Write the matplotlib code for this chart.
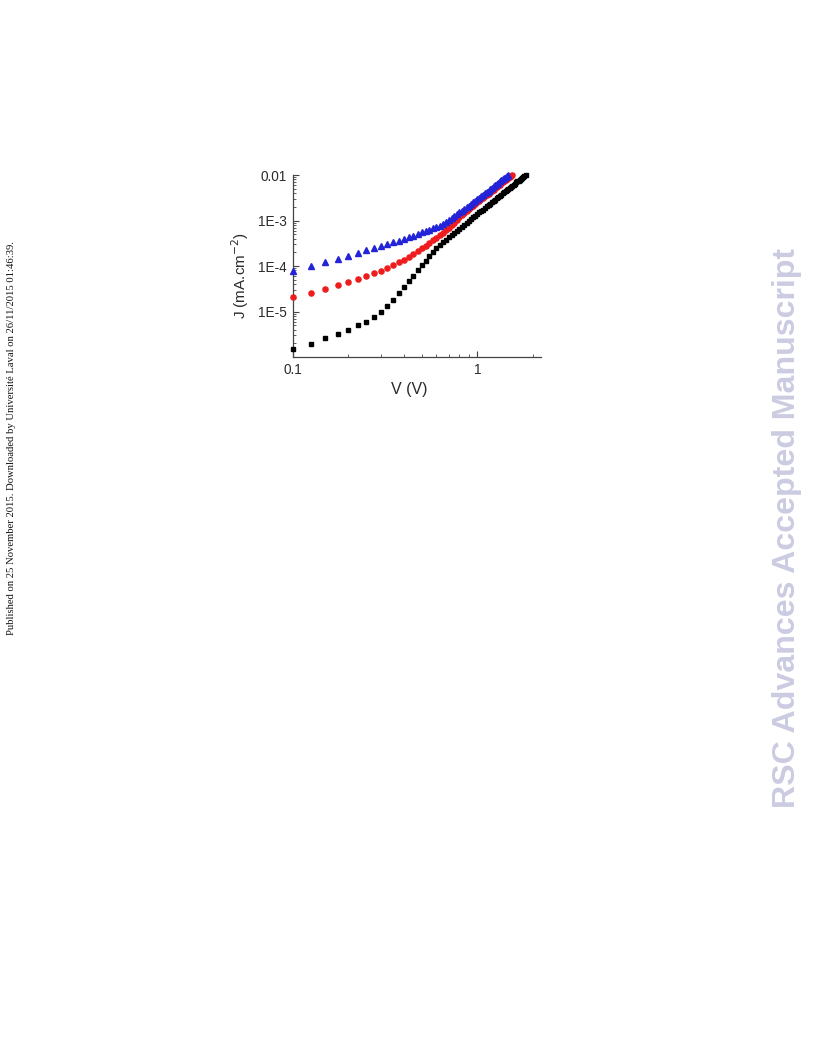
import matplotlib
matplotlib.use("Agg")
import matplotlib.pyplot as plt
from matplotlib.ticker import FixedLocator, NullFormatter, LogLocator

# applied bias (V), 25 mV steps
voltage = [0.100, 0.125, 0.150, 0.175, 0.200, 0.225, 0.250, 0.275, 0.300, 0.325,
           0.350, 0.375, 0.400, 0.425, 0.450, 0.475, 0.500, 0.525, 0.550, 0.575,
           0.600, 0.625, 0.650, 0.675, 0.700, 0.725, 0.750, 0.775, 0.800, 0.825,
           0.850, 0.875, 0.900, 0.925, 0.950, 0.975, 1.000, 1.025, 1.050, 1.075,
           1.100, 1.125, 1.150, 1.175, 1.200, 1.225, 1.250, 1.275, 1.300, 1.325,
           1.350, 1.375, 1.400, 1.425, 1.450, 1.475, 1.500, 1.525, 1.550, 1.575,
           1.600, 1.625, 1.650, 1.675, 1.700, 1.725, 1.750, 1.775, 1.800, 1.825]

# current density (mA.cm-2)
j_black = [1.51e-6, 1.95e-6, 2.57e-6, 3.24e-6, 3.98e-6, 5.01e-6, 6.03e-6, 7.59e-6, 9.77e-6, 1.32e-5,
           1.82e-5, 2.51e-5, 3.47e-5, 4.68e-5, 6.17e-5, 8.13e-5, 1.05e-4, 1.32e-4, 1.66e-4, 2.04e-4,
           2.51e-4, 2.95e-4, 3.31e-4, 3.80e-4, 4.27e-4, 4.79e-4, 5.37e-4, 5.89e-4, 6.61e-4, 7.24e-4,
           8.13e-4, 8.91e-4, 9.77e-4, 1.07e-3, 1.17e-3, 1.26e-3, 1.38e-3, 1.51e-3, 1.62e-3, 1.74e-3,
           1.91e-3, 2.04e-3, 2.19e-3, 2.34e-3, 2.51e-3, 2.69e-3, 2.88e-3, 3.09e-3, 3.31e-3, 3.47e-3,
           3.72e-3, 3.98e-3, 4.17e-3, 4.47e-3, 4.68e-3, 5.01e-3, 5.25e-3, 5.50e-3, 5.89e-3, 6.17e-3,
           6.46e-3, 6.92e-3, 7.24e-3, 7.59e-3, 7.94e-3, 8.32e-3, 8.71e-3, 9.12e-3, 9.55e-3, 1.00e-2]

j_red = [2.09e-5, 2.57e-5, 3.16e-5, 3.80e-5, 4.47e-5, 5.25e-5, 6.03e-5, 6.92e-5, 7.94e-5, 9.12e-5,
         1.05e-4, 1.20e-4, 1.38e-4, 1.58e-4, 1.82e-4, 2.14e-4, 2.45e-4, 2.82e-4, 3.24e-4, 3.72e-4,
         4.17e-4, 4.79e-4, 5.37e-4, 6.17e-4, 6.92e-4, 7.94e-4, 8.91e-4, 1.02e-3, 1.17e-3, 1.32e-3,
         1.48e-3, 1.62e-3, 1.78e-3, 1.95e-3, 2.14e-3, 2.34e-3, 2.51e-3, 2.69e-3, 2.95e-3, 3.16e-3,
         3.39e-3, 3.63e-3, 3.89e-3, 4.17e-3, 4.47e-3, 4.79e-3, 5.13e-3, 5.50e-3, 5.75e-3, 6.17e-3,
         6.61e-3, 6.92e-3, 7.41e-3, 7.76e-3, 8.32e-3, 8.71e-3, 9.12e-3, 9.77e-3, 1.02e-2]

j_blue = [7.94e-5, 1.02e-4, 1.23e-4, 1.45e-4, 1.70e-4, 1.95e-4, 2.24e-4, 2.51e-4, 2.75e-4, 3.02e-4,
          3.31e-4, 3.63e-4, 3.89e-4, 4.27e-4, 4.68e-4, 5.01e-4, 5.50e-4, 5.89e-4, 6.31e-4, 6.76e-4,
          7.24e-4, 7.76e-4, 8.51e-4, 9.33e-4, 1.02e-3, 1.12e-3, 1.26e-3, 1.38e-3, 1.51e-3, 1.66e-3,
          1.82e-3, 2.00e-3, 2.14e-3, 2.34e-3, 2.51e-3, 2.75e-3, 2.95e-3, 3.16e-3, 3.47e-3, 3.72e-3,
          3.98e-3, 4.27e-3, 4.57e-3, 4.90e-3, 5.25e-3, 5.62e-3, 6.03e-3, 6.46e-3, 6.76e-3, 7.24e-3,
          7.76e-3, 8.13e-3, 8.71e-3, 9.12e-3, 9.77e-3, 1.02e-2]

y_ticks = [1e-5, 1e-4, 1e-3, 1e-2]
y_tick_labels = ["1E-5", "1E-4", "1E-3", "0.01"]
x_ticks = [0.1, 1]
x_tick_labels = ["0.1", "1"]

text_col = "#2a2a2a"

fig = plt.figure(figsize=(8.16, 10.56), dpi=100)
ax = fig.add_axes([0.3587, 0.6619, 0.3037, 0.1723])

ax.plot(voltage[:len(j_black)], j_black, ls="none", marker="s", ms=3.5,
        color="black", clip_on=False, zorder=3)
ax.plot(voltage[:len(j_red)], j_red, ls="none", marker="o", ms=3.7,
        color="#ee1c1c", mec="#ee1c1c", clip_on=False, zorder=4)
ax.plot(voltage[:len(j_blue)], j_blue, ls="none", marker="^", ms=4.0,
        color="#2323d8", mec="#2323d8", clip_on=False, zorder=5)

ax.set_xscale("log")
ax.set_yscale("log")
ax.set_xlim(0.1, 2.2)
ax.set_ylim(1e-6, 1e-2)

ax.spines["top"].set_visible(False)
ax.spines["right"].set_visible(False)
for s in ("left", "bottom"):
    ax.spines[s].set_color("#444444")
    ax.spines[s].set_linewidth(0.9)

ax.yaxis.set_major_locator(FixedLocator(y_ticks))
ax.set_yticklabels(y_tick_labels)
ax.xaxis.set_major_locator(FixedLocator(x_ticks))
ax.set_xticklabels(x_tick_labels)
ax.yaxis.set_minor_locator(LogLocator(base=10, subs=range(2, 10)))
ax.xaxis.set_minor_locator(LogLocator(base=10, subs=range(2, 10)))
ax.yaxis.set_minor_formatter(NullFormatter())
ax.xaxis.set_minor_formatter(NullFormatter())

ax.tick_params(which="major", direction="in", length=4, width=0.8,
               color="#444444", labelsize=9.8, labelcolor=text_col,
               pad=4, labelfontfamily="Liberation Sans")
ax.tick_params(which="minor", direction="in", length=2, width=0.6, color="#444444")

ax.set_xlabel("V (V)", fontsize=11.5, family="Liberation Sans", color=text_col, labelpad=4)
ax.set_ylabel("J (mA.cm$^{-2}$)", fontsize=11, family="Liberation Sans",
              color=text_col, labelpad=5)
ax.xaxis.label.set_x(0.47)
ax.yaxis.label.set_y(0.45)

# page furniture
fig.text(12 / 816, 1 - 438 / 1056,
         "Published on 25 November 2015. Downloaded by Université Laval on 26/11/2015 01:46:39.",
         rotation=90, ha="center", va="center", fontsize=7.65,
         family="Liberation Serif", color="#111111")
fig.text(787 / 816, 1 - 528 / 1056, "RSC Advances Accepted Manuscript",
         rotation=90, ha="center", va="center", fontsize=23.1, weight="bold",
         family="Liberation Sans", color="#cbcbe1")

fig.savefig("out.png", dpi=100)
